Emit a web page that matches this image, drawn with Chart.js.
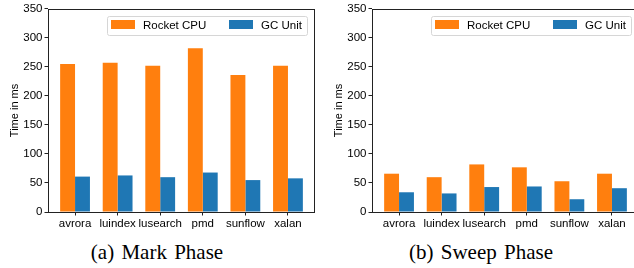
<!DOCTYPE html>
<html>
<head>
<meta charset="utf-8">
<script src="https://cdn.jsdelivr.net/npm/chart.js@4"></script>
<style>
  html, body { margin: 0; padding: 0; background: #fff; overflow: hidden; width: 634px; height: 268px; }
  .panel { position: absolute; top: 0; width: 320px; height: 268px; }
  .caption {
    position: absolute; left: 0; top: 240px; width: 314px; text-align: center;
    font-family: 'Liberation Serif', 'Times New Roman', serif; font-size: 21px; color: #000;
    word-spacing: 2px; white-space: nowrap;
  }
</style>
</head>
<body>
<div class="panel" style="left:0">
  <canvas id="mark-chart" width="320" height="232"></canvas>
  <div class="caption">(a) Mark Phase</div>
</div>
<div class="panel" style="left:324px">
  <canvas id="sweep-chart" width="320" height="232"></canvas>
  <div class="caption">(b) Sweep Phase</div>
</div>
<script>
const benchmarks = ['avrora', 'luindex', 'lusearch', 'pmd', 'sunflow', 'xalan'];
const seriesNames = ['Rocket CPU', 'GC Unit'];
const seriesColors = ['#ff7f0e', '#1f77b4'];

const markRocket = [255, 257, 252, 282, 236, 252];
const markGc = [61, 63, 60, 68, 55, 58];
const sweepRocket = [66, 60, 82, 77, 53, 66];
const sweepGc = [34, 32, 43, 44, 22, 41];

const yTicks = [0, 50, 100, 150, 200, 250, 300, 350];

const FONT = "'Liberation Sans', Arial, Helvetica, sans-serif";

// box around the plot area + legend drawn inside it, matplotlib style
const frameAndLegend = {
  id: 'frameAndLegend',
  afterDraw(chart) {
    const { ctx, chartArea } = chart;
    ctx.save();
    ctx.strokeStyle = '#222';
    ctx.lineWidth = 1;
    ctx.strokeRect(Math.round(chartArea.left) + 0.5, Math.round(chartArea.top) + 0.5,
      Math.round(chartArea.right - chartArea.left) - 1, Math.round(chartArea.bottom - chartArea.top));

    const w = 200, h = 19;
    const x = Math.round(chartArea.right) - 8 - w;
    const y = Math.round(chartArea.top) + 7;
    ctx.beginPath();
    ctx.roundRect(x + 0.5, y + 0.5, w, h, 2);
    ctx.fillStyle = 'rgba(255,255,255,0.8)';
    ctx.fill();
    ctx.strokeStyle = '#d6d6d6';
    ctx.stroke();

    ctx.font = '11.5px ' + FONT;
    ctx.textBaseline = 'middle';
    ctx.textAlign = 'left';
    const slots = [4, 122];
    chart.data.datasets.forEach((ds, i) => {
      ctx.fillStyle = ds.backgroundColor;
      ctx.fillRect(x + slots[i], y + 4, 24, 9);
      ctx.fillStyle = '#000';
      ctx.fillText(ds.label, x + slots[i] + 32, y + h / 2 + 0.5);
    });
    ctx.restore();
  }
};

function renderPhase(canvasId, rocket, gc) {
  const ctx = document.getElementById(canvasId).getContext('2d');
  return new Chart(ctx, {
    type: 'bar',
    data: {
      datasets: [
        { label: seriesNames[0], data: rocket.map((v, i) => ({ x: i, y: v })), backgroundColor: seriesColors[0] },
        { label: seriesNames[1], data: gc.map((v, i) => ({ x: i, y: v })), backgroundColor: seriesColors[1] }
      ]
    },
    options: {
      responsive: false,
      animation: false,
      categoryPercentage: 0.7,
      barPercentage: 1.0,
      layout: { padding: { top: 6, right: 5, left: 0, bottom: 0 } },
      plugins: { legend: { display: false }, tooltip: { enabled: false } },
      scales: {
        x: {
          type: 'linear',
          offset: false,
          min: -0.635,
          max: benchmarks.length - 1 + 0.635,
          afterBuildTicks: (scale) => { scale.ticks = benchmarks.map((_, i) => ({ value: i })); },
          afterFit: (scale) => { scale.height = 20; },
          border: { display: false },
          grid: { offset: false, drawOnChartArea: false, drawTicks: true, tickLength: 3.5, tickColor: '#222' },
          ticks: {
            autoSkip: false, maxRotation: 0, padding: 1, color: '#000',
            font: { family: FONT, size: 11.5 },
            callback: (v) => benchmarks[Math.round(v)]
          }
        },
        y: {
          min: yTicks[0],
          max: yTicks[yTicks.length - 1],
          afterBuildTicks: (scale) => { scale.ticks = yTicks.map(v => ({ value: v })); },
          afterFit: (scale) => { scale.width = 48; },
          border: { display: false },
          grid: { drawOnChartArea: false, drawTicks: true, tickLength: 3.5, tickColor: '#222' },
          ticks: { padding: 2, color: '#000', font: { family: FONT, size: 11.5 } },
          title: {
            display: true, text: 'Time in ms', color: '#000',
            font: { family: FONT, size: 11 },
            padding: { top: 8, bottom: 0 }
          }
        }
      }
    },
    plugins: [frameAndLegend]
  });
}

renderPhase('mark-chart', markRocket, markGc);
renderPhase('sweep-chart', sweepRocket, sweepGc);
</script>
</body>
</html>
